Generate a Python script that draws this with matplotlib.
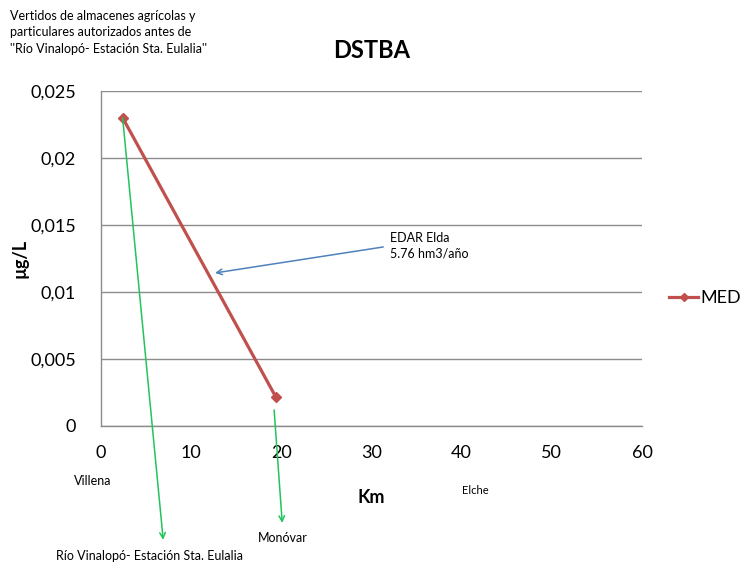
import matplotlib
matplotlib.use("Agg")
import matplotlib.pyplot as plt
from matplotlib.lines import Line2D

plt.rcParams['font.family'] = ['Lato', 'DejaVu Sans']

# Data
km = [2.4, 19.4]
med = [0.023, 0.00215]
xticks = [0, 10, 20, 30, 40, 50, 60]
yticks = [0, 0.005, 0.01, 0.015, 0.02, 0.025]
ytick_labels = ['0', '0,005', '0,01', '0,015', '0,02', '0,025']
series_name = 'MED'
title = 'DSTBA'

fig = plt.figure(figsize=(7.4, 5.62), dpi=100)
ax = fig.add_axes([101/740, 1-426/562, (642-101)/740, (426-91)/562])

red = '#C0504D'
ax.plot(km, med, color=red, lw=2.3, marker='D', ms=5, mec=red, mfc=red, label=series_name)

ax.set_xlim(0, 60)
ax.set_ylim(0, 0.025)
ax.set_xticks(xticks)
ax.set_xticklabels([str(t) for t in xticks])
ax.set_yticks(yticks)
ax.set_yticklabels(ytick_labels)
ax.tick_params(axis='both', length=0, labelsize=13, colors='black')
ax.tick_params(axis='x', pad=14)
ax.tick_params(axis='y', pad=18)
ax.yaxis.grid(True, color='#8C8C8C', lw=1)
ax.set_axisbelow(True)
for s in ['top', 'right']:
    ax.spines[s].set_visible(False)
for s in ['left', 'bottom']:
    ax.spines[s].set_color('#8C8C8C')
    ax.spines[s].set_linewidth(1)

ax.set_title(title, fontsize=17, fontweight='bold', pad=24)
ax.set_xlabel('Km', fontsize=13, fontweight='bold', labelpad=20)
fig.text(20/740, 1-258/562, 'µg/L', fontsize=13, fontweight='bold', rotation=90,
         ha='center', va='center')

# Legend
handle = Line2D([0], [0], color=red, lw=2.3, marker='D', ms=4.5)
fig.legend([handle], [series_name], loc='center left', bbox_to_anchor=(662/740, 1-298/562),
           frameon=False, fontsize=13, handlelength=1.6, handletextpad=0.1, borderaxespad=0)

# Annotations
green = '#22C45A'
ax.annotate('', xy=(6.9, -0.0085), xytext=(km[0], med[0]), annotation_clip=False,
            arrowprops=dict(arrowstyle='->', color=green, lw=1.1, shrinkA=0, shrinkB=0))
ax.annotate('', xy=(20.1, -0.00724), xytext=(19.2, 0.0012), annotation_clip=False,
            arrowprops=dict(arrowstyle='->', color=green, lw=1.1, shrinkA=0, shrinkB=0))
ax.annotate('', xy=(12.64, 0.01142), xytext=(31.3, 0.01336), annotation_clip=False,
            arrowprops=dict(arrowstyle='->', color='#4F81BD', lw=1.1, shrinkA=0, shrinkB=0))
ax.text(32.0, 0.0145, 'EDAR Elda\n5.76 hm3/año', fontsize=9, va='top', ha='left', linespacing=1.4)

fig.text(10/740, 1-10/562, "Vertidos de almacenes agrícolas y\nparticulares autorizados antes de\n''Río Vinalopó- Estación Sta. Eulalia''",
         fontsize=9, va='top', ha='left', linespacing=1.45)
fig.text(93/740, 1-481/562, 'Villena', fontsize=9, ha='center', va='center')
fig.text(475/740, 1-490/562, 'Elche', fontsize=8, ha='center', va='center')
fig.text(283/740, 1-538/562, 'Monóvar', fontsize=9, ha='center', va='center')
fig.text(150/740, 1-556/562, 'Río Vinalopó- Estación Sta. Eulalia', fontsize=9, ha='center', va='center')

fig.savefig('out.png', dpi=100)
